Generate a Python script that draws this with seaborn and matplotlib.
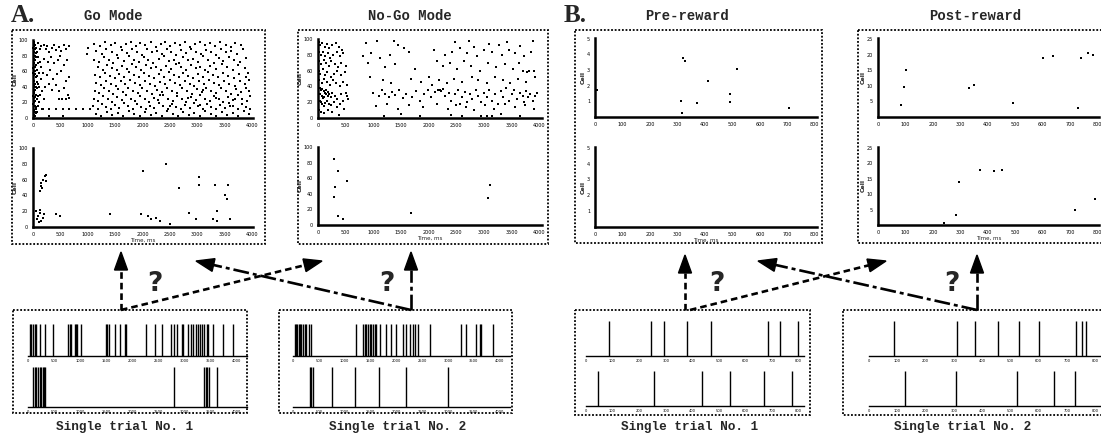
import matplotlib.pyplot as plt
import numpy as np
import pandas as pd
import seaborn as sns
from matplotlib.patches import Polygon, Rectangle

W, H = 1101, 437

# values: (time in ms, cell number)
go_top = [
    (10, 95), (25, 92), (40, 88), (15, 85), (55, 90), (30, 80), (70, 84), (12, 76), (45, 74), (20, 70),
    (60, 68), (8, 64), (35, 60), (80, 62), (18, 55), (50, 52), (25, 48), (65, 46), (10, 42), (40, 40),
    (30, 36), (75, 38), (15, 32), (55, 30), (20, 26), (45, 22), (8, 18), (35, 16), (60, 14), (15, 10),
    (28, 8), (50, 6), (12, 4), (40, 2), (90, 96), (100, 78), (110, 58), (95, 44), (120, 30), (105, 20),
    (130, 88), (140, 66), (150, 50), (160, 34), (22, 97), (38, 94), (5, 90), (48, 83), (62, 78), (28, 66),
    (6, 58), (42, 56), (72, 54), (14, 47), (32, 44), (58, 40), (24, 34), (6, 28), (38, 27), (68, 24),
    (16, 20), (48, 12), (70, 8), (85, 16), (92, 28), (125, 72), (145, 92), (165, 12), (88, 70), (110, 40),
    (200, 94), (230, 88), (260, 92), (300, 85), (340, 90), (380, 93), (420, 87), (470, 91), (520, 86),
    (560, 94), (610, 89), (650, 92), (210, 76), (270, 72), (330, 78), (390, 70), (450, 74), (500, 80),
    (560, 68), (620, 75), (190, 58), (250, 55), (310, 62), (370, 50), (440, 56), (520, 60), (600, 48),
    (660, 52), (220, 40), (290, 44), (350, 36), (420, 42), (480, 35), (560, 38), (640, 30), (200, 25),
    (470, 25), (530, 24), (600, 25), (650, 26), (190, 12), (300, 12),
    (420, 11), (540, 12), (660, 12), (790, 12),
    (910, 12), (1040, 12), (300, 3), (550, 2), (1010, 90), (980, 82),
    (1120, 95), (1230, 92), (1310, 97), (1420, 93), (1500, 96), (1610, 91), (1700, 95), (1790, 98),
    (1880, 92), (1960, 96), (2050, 93), (2150, 97), (2240, 91), (2330, 95), (2420, 98), (2510, 92),
    (2600, 96), (2690, 93), (2780, 97), (2870, 91), (2960, 95), (3050, 98), (3140, 93), (3230, 96),
    (3330, 92), (3420, 97), (3520, 94), (3610, 91), (3700, 96), (3800, 93),
    (1150, 86), (1260, 82), (1340, 88), (1450, 84), (1540, 81), (1630, 87), (1720, 83), (1810, 89),
    (1900, 85), (1990, 81), (2080, 88), (2170, 84), (2260, 86), (2350, 82), (2440, 89), (2530, 85),
    (2620, 81), (2710, 87), (2800, 83), (2890, 88), (2980, 84), (3070, 82), (3160, 87), (3250, 85),
    (3340, 81), (3430, 88), (3530, 84), (3620, 86), (3720, 82), (3840, 88),
    (1110, 75), (1200, 72), (1290, 78), (1380, 74), (1470, 71), (1560, 77), (1660, 73), (1750, 79),
    (1840, 75), (1930, 72), (2020, 78), (2110, 74), (2200, 71), (2300, 76), (2390, 79), (2480, 73),
    (2570, 75), (2660, 71), (2750, 78), (2840, 74), (2930, 76), (3020, 72), (3110, 79), (3200, 74),
    (3300, 71), (3390, 77), (3480, 73), (3580, 78), (3680, 75), (3780, 72), (3900, 77),
    (1180, 66), (1270, 62), (1360, 68), (1440, 64), (1530, 61), (1620, 67), (1710, 63), (1800, 69),
    (1890, 65), (1980, 62), (2070, 68), (2160, 64), (2250, 66), (2340, 61), (2430, 67), (2520, 63),
    (2610, 69), (2700, 65), (2790, 62), (2880, 68), (2970, 64), (3060, 66), (3150, 61), (3240, 67),
    (3350, 63), (3450, 69), (3550, 65), (3650, 62), (3750, 68), (3870, 64), (3920, 58),
    (1130, 55), (1220, 52), (1320, 58), (1410, 54), (1490, 51), (1580, 57), (1670, 53), (1760, 59),
    (1850, 55), (1940, 52), (2030, 58), (2120, 54), (2210, 51), (2300, 56), (2390, 53), (2480, 59),
    (2570, 55), (2660, 52), (2750, 58), (2840, 54), (2930, 51), (3020, 57), (3110, 53), (3200, 59),
    (3290, 55), (3380, 52), (3470, 58), (3570, 54), (3670, 51), (3770, 57), (3890, 53),
    (1160, 45), (1250, 42), (1340, 48), (1430, 44), (1510, 41), (1600, 47), (1690, 43), (1780, 49),
    (1870, 45), (1960, 42), (2050, 48), (2140, 44), (2230, 41), (2320, 46), (2410, 43), (2500, 49),
    (2590, 45), (2680, 42), (2770, 48), (2860, 44), (2950, 41), (3040, 47), (3130, 43), (3220, 49),
    (3310, 45), (3400, 42), (3490, 48), (3590, 44), (3690, 41), (3790, 47), (3880, 43), (3940, 49),
    (1140, 35), (1210, 32), (1300, 38), (1390, 34), (1460, 31), (1550, 37), (1640, 33), (1730, 39),
    (1820, 35), (1910, 32), (2000, 38), (2090, 34), (2180, 31), (2270, 36), (2360, 33), (2450, 39),
    (2540, 35), (2630, 32), (2720, 38), (2810, 34), (2900, 31), (2990, 37), (3080, 33), (3170, 39),
    (3260, 35), (3350, 32), (3440, 38), (3530, 34), (3620, 31), (3710, 37), (3800, 33), (3890, 39),
    (3950, 35), (2320, 30), (3100, 36),
    (1120, 25), (1190, 22), (1280, 28), (1370, 24), (1450, 21), (1540, 27), (1620, 23), (1700, 29),
    (1790, 25), (1870, 22), (1950, 28), (2040, 24), (2120, 21), (2210, 26), (2290, 23), (2380, 29),
    (2460, 25), (2550, 22), (2630, 28), (2720, 24), (2800, 21), (2890, 27), (2970, 23), (3060, 29),
    (3140, 25), (3230, 22), (3310, 28), (3400, 24), (3480, 21), (3570, 27), (3650, 23), (3740, 29),
    (3820, 25), (3910, 22), (3960, 28), (2840, 26), (3350, 26), (3700, 24),
    (1100, 15), (1180, 12), (1260, 18), (1340, 14), (1420, 11), (1500, 17), (1580, 13), (1660, 19),
    (1740, 15), (1820, 12), (1900, 18), (1980, 14), (2060, 11), (2140, 16), (2220, 13), (2300, 19),
    (2380, 15), (2460, 12), (2540, 18), (2620, 14), (2700, 11), (2780, 17), (2860, 13), (2940, 19),
    (3020, 15), (3100, 12), (3180, 18), (3260, 14), (3340, 11), (3420, 17), (3500, 13), (3580, 19),
    (3660, 15), (3740, 12), (3820, 18), (3900, 14), (3960, 11), (2500, 16), (3050, 17), (3600, 16),
    (1150, 5), (1250, 2), (1350, 8), (1450, 4), (1550, 7), (1650, 3), (1750, 9), (1850, 5),
    (1950, 2), (2050, 8), (2150, 4), (2250, 6), (2350, 3), (2450, 9), (2550, 5), (2650, 2),
    (2750, 8), (2850, 4), (2950, 7), (3050, 3), (3150, 9), (3250, 5), (3350, 2), (3450, 8),
    (3550, 4), (3650, 6), (3750, 3), (3850, 9), (3940, 5),
]
go_bottom = [
    (213, 64), (245, 66), (152, 56), (170, 49), (122, 46), (190, 60), (230, 58), (140, 52),
    (60, 20), (90, 14), (120, 18), (150, 8), (180, 12), (110, 6), (75, 10), (200, 16), (135, 22),
    (500, 14), (425, 16), (1400, 16), (2012, 71), (2427, 80), (2670, 50), (3036, 63), (3036, 53),
    (2853, 18), (3323, 53), (3567, 53), (3506, 40), (3550, 35), (3354, 20), (2165, 10), (2256, 12),
    (2317, 8), (2104, 14), (1982, 16), (2500, 4), (2975, 10), (3280, 10), (3370, 8), (3600, 10),
]
nogo_top = [
    (10, 96), (40, 92), (80, 95), (120, 90), (160, 94), (200, 88), (260, 92), (320, 95), (380, 90),
    (430, 86), (15, 84), (50, 80), (90, 83), (130, 78), (175, 82), (220, 76), (280, 80), (340, 84),
    (400, 78), (460, 82), (20, 72), (60, 68), (100, 74), (150, 70), (190, 66), (240, 72), (300, 68),
    (360, 64), (420, 70), (500, 66), (12, 60), (45, 56), (85, 62), (125, 54), (170, 58), (230, 52),
    (290, 56), (350, 60), (410, 54), (480, 58), (25, 48), (70, 44), (110, 50), (160, 46), (210, 42),
    (270, 48), (330, 44), (390, 40), (450, 46), (520, 42), (30, 38), (55, 36), (80, 37), (105, 34),
    (130, 32), (150, 35), (180, 33), (40, 30), (65, 28), (90, 25), (115, 27), (140, 30), (175, 28),
    (200, 30), (230, 26), (260, 32), (300, 28), (350, 24), (420, 30), (500, 32), (35, 22), (50, 20),
    (75, 18), (100, 15), (125, 19), (160, 22), (195, 18), (240, 16), (290, 20), (340, 14), (400, 18),
    (460, 22), (530, 28), (20, 10), (60, 8), (110, 6), (180, 10), (260, 8), (380, 4), (470, 12),
    (545, 24),
    (870, 95), (1060, 97), (1380, 98), (1450, 93), (2480, 96), (2730, 97), (2820, 90), (3100, 94),
    (3280, 93), (3420, 96), (3880, 98), (3650, 91), (820, 78), (960, 82), (1130, 76), (1300, 80),
    (1550, 88), (1640, 84), (2100, 86), (2290, 80), (2420, 84), (2560, 88), (2690, 82), (2880, 78),
    (3000, 86), (3150, 84), (3320, 80), (3460, 86), (3560, 82), (3720, 78), (3850, 84), (900, 70),
    (1220, 64), (1400, 68), (1750, 62), (2150, 72), (2260, 66), (2380, 70), (2520, 62), (2640, 72),
    (2760, 66), (2920, 60), (3080, 70), (3220, 64), (3380, 68), (3520, 62), (3640, 70), (3780, 58),
    (3900, 60), (3700, 60), (3820, 59),
    (940, 52), (1180, 48), (1320, 44), (1680, 50), (1860, 46), (2000, 52), (2180, 48), (2340, 44),
    (2450, 50), (2600, 46), (2780, 52), (2900, 48), (3060, 44), (3200, 52), (3340, 48), (3480, 44),
    (3620, 50), (3760, 46), (3920, 52), (2060, 42),
    (1000, 32), (1100, 28), (1150, 35), (1210, 30), (1280, 26), (1340, 33), (1400, 29), (1470, 36),
    (1530, 25), (1600, 31), (1700, 27), (1780, 34), (1850, 22), (1920, 30), (1990, 36), (2050, 26),
    (2120, 33), (2170, 36), (2200, 35), (2230, 34), (2260, 37), (2300, 28), (2360, 32), (2410, 22),
    (2470, 30), (2530, 36), (2560, 18), (2600, 26), (2650, 33), (2700, 20), (2740, 30), (2790, 24),
    (2850, 35), (2900, 28), (2950, 20), (3000, 32), (3050, 26), (3100, 36), (3150, 22), (3200, 30),
    (3260, 18), (3300, 34), (3350, 26), (3400, 38), (3450, 22), (3500, 30), (3550, 36), (3600, 24),
    (3650, 32), (3700, 28), (3720, 20), (3760, 34), (3800, 26), (3840, 30), (3880, 22), (3920, 28),
    (3960, 32), (1050, 15), (1250, 18), (1450, 12), (1650, 16), (1900, 14), (2150, 18), (2350, 12),
    (2500, 16), (2680, 14), (2820, 10), (3020, 16), (3180, 12), (3380, 18), (3560, 14), (3740, 16),
    (3900, 12), (1200, 3), (1500, 5), (1850, 2), (2400, 4), (2600, 3), (2950, 2), (3050, 3),
    (3150, 2), (3300, 5), (3650, 3),
]
nogo_bottom = [
    (287, 85), (366, 69), (518, 56), (311, 49), (293, 36), (366, 12), (445, 8), (1677, 16),
    (3110, 51), (3067, 34),
]
pre_top = [
    (320, 3.8), (327, 3.6), (516, 3.1), (412, 2.3), (490, 1.5), (313, 1.0), (490, 0.95),
    (372, 0.9), (705, 0.6), (315, 0.25), (6, 1.7),
]
pre_bottom = []
post_top = [
    (103, 15.1), (93, 9.5), (85, 3.9), (333, 9.3), (349, 10.3), (491, 4.5), (602, 18.8),
    (639, 19.6), (739, 18.8), (764, 20.6), (784, 19.8), (727, 2.9),
]
post_bottom = [
    (294, 13.8), (373, 17.8), (422, 17.6), (451, 17.9), (285, 3.2), (719, 4.8), (789, 8.5),
    (242, 0.5),
]

ms_ticks = [0, 500, 1000, 1500, 2000, 2500, 3000, 3500, 4000]
go_cell_ticks = [0, 20, 40, 60, 80, 100]
reward_ticks = [0, 100, 200, 300, 400, 500, 600, 700, 800]
pre_cell_ticks = [1, 2, 3, 4, 5]
post_cell_ticks = [5, 10, 15, 20, 25]

# spike times (ms) of the two example trials
go_trial1_a = [45, 64, 96, 128, 147, 224, 320, 480, 768, 800, 832, 896, 915, 941, 1024, 1491,
               1517, 1555, 1664, 1760, 1856, 1888, 2259, 2432, 2579, 2733, 2797, 2848, 2944,
               2976, 3072, 3117, 3168, 3219, 3264, 3296, 3328, 3373, 3424, 3456, 3552, 3744, 3936]
go_trial1_b = [96, 128, 160, 192, 224, 256, 288, 307, 320, 2797, 3373, 3405, 3437, 3475, 3616]
go_trial2_a = [32, 65, 84, 110, 129, 161, 194, 226, 258, 310, 355, 1226, 1355, 1387, 1419, 1452,
               1484, 1516, 1548, 1581, 1613, 1677, 1806, 1903, 2000, 2129, 2180, 2258, 2322,
               2355, 2419, 2645, 3258, 3355, 3548, 3613, 3645, 3871]
go_trial2_b = [323, 355, 387, 761, 1194, 1658, 2180, 3000]
rw_trial1_a = [87, 243, 293, 379, 470, 683, 729, 798]
rw_trial1_b = [46, 256, 436, 543, 671, 775]
rw_trial2_a = [87, 311, 376, 455, 532, 600, 734, 753, 769]
rw_trial2_b = [126, 308, 522, 653, 728]

sns.set_style("white")
plt.rcParams["font.family"] = ["DejaVu Sans"]

fig = plt.figure(figsize=(W / 100, H / 100), dpi=100)
ov = fig.add_axes([0, 0, 1, 1])
ov.set_xlim(0, W)
ov.set_ylim(H, 0)
ov.axis("off")


def axes_px(l, t, r, b):
    ax = fig.add_axes([l / W, 1 - b / H, (r - l) / W, (b - t) / H])
    ax.set_facecolor("none")
    return ax


def raster(box, pts, xmax, xticks, ymax, yticks, xlabel=False, size=4):
    ax = axes_px(*box)
    if pts:
        df = pd.DataFrame(pts, columns=["t", "cell"])
        sns.scatterplot(data=df, x="t", y="cell", ax=ax, color="k", marker="s",
                        s=size, linewidth=0, legend=False, clip_on=False)
    ax.set_xlim(0, xmax)
    ax.set_ylim(0, ymax)
    ax.set_xticks(xticks)
    ax.set_yticks(yticks)
    ax.tick_params(labelsize=3.5, length=2, width=0.8, pad=1.5, colors="k")
    for s in ["top", "right"]:
        ax.spines[s].set_visible(False)
    for s in ["left", "bottom"]:
        ax.spines[s].set_linewidth(1.8)
        ax.spines[s].set_color("k")
    ax.set_ylabel("Cell", fontsize=4.5, fontweight="bold", labelpad=1)
    ax.set_xlabel("Time, ms" if xlabel else "", fontsize=4, labelpad=1)
    return ax


def spikes(box, times, xmax, xticks):
    ax = axes_px(*box)
    sns.rugplot(x=times, ax=ax, height=0.93, color="k", lw=1.2, expand_margins=False)
    ax.set_xlim(0, xmax)
    ax.set_ylim(0, 1)
    ax.set_yticks([])
    ax.set_xticks(xticks)
    ax.tick_params(labelsize=2.6, length=1.5, width=0.6, pad=1, colors="k")
    for s in ["top", "right", "left"]:
        ax.spines[s].set_visible(False)
    ax.spines["bottom"].set_linewidth(1.0)
    ax.spines["bottom"].set_color("k")


def box(l, t, r, b):
    ov.add_patch(Rectangle((l, t), r - l, b - t, fill=False, ec="k", lw=1.3, ls=(0, (1, 1))))


def arrow(x0, y0, x1, y1, ls):
    d = np.array([x1 - x0, y1 - y0], dtype=float)
    u = d / np.hypot(*d)
    n = np.array([-u[1], u[0]])
    base = np.array([x1, y1]) - u * 18
    ov.plot([x0, base[0]], [y0, base[1]], color="k", lw=1.9, ls=ls)
    ov.add_patch(Polygon([(x1, y1), base + n * 6.5, base - n * 6.5], closed=True, fc="k", ec="k"))


dash = (0, (2.5, 1.5))
dashdot = (0, (6, 1.5, 1.5, 1.5))

# dotted frames
box(12, 30, 265, 244)
box(298, 30, 548, 244)
box(575, 30, 822, 243)
box(858, 30, 1112, 243)
box(13, 310, 247, 413)
box(279, 310, 512, 413)
box(575, 310, 810, 415)
box(843, 310, 1112, 415)

# raster panels
raster((33, 40, 253, 118), go_top, 4020, ms_ticks, 100, go_cell_ticks, size=4)
raster((33, 148, 253, 227), go_bottom, 4020, ms_ticks, 100, go_cell_ticks, xlabel=True)
raster((318, 39, 542, 118), nogo_top, 4050, ms_ticks, 100, go_cell_ticks, size=4.5)
raster((318, 147, 542, 225), nogo_bottom, 4050, ms_ticks, 100, go_cell_ticks, xlabel=True)
raster((595, 38, 817, 117), pre_top, 808, reward_ticks, 5.05, pre_cell_ticks)
raster((595, 147, 817, 227), pre_bottom, 808, reward_ticks, 5.05, pre_cell_ticks, xlabel=True)
raster((878, 38, 1099, 117), post_top, 805, reward_ticks, 25.3, post_cell_ticks)
raster((878, 147, 1099, 225), post_bottom, 805, reward_ticks, 25.3, post_cell_ticks, xlabel=True)

# single trials
spikes((28, 322, 247, 356), go_trial1_a, 4200, ms_ticks)
spikes((28, 364, 247, 407), go_trial1_b, 4200, ms_ticks)
spikes((293, 322, 510, 356), go_trial2_a, 4200, ms_ticks)
spikes((293, 364, 510, 407), go_trial2_b, 4200, ms_ticks)
spikes((586, 318, 804, 356), rw_trial1_a, 820, reward_ticks)
spikes((586, 368, 804, 406), rw_trial1_b, 820, reward_ticks)
spikes((869, 318, 1101, 356), rw_trial2_a, 821, reward_ticks)
spikes((869, 368, 1101, 406), rw_trial2_b, 821, reward_ticks)

# arrows and question marks
arrow(121, 310, 121, 252, dash)
arrow(121, 310, 322, 261, dash)
arrow(411, 310, 196, 261, dashdot)
arrow(411, 310, 411, 252, dashdot)
arrow(685, 310, 685, 255, dash)
arrow(690, 310, 886, 261, dash)
arrow(977, 310, 758, 261, dashdot)
arrow(977, 310, 977, 255, dashdot)
for qx in [155, 387, 717, 952]:
    ov.text(qx, 284, "?", fontsize=19, fontweight="heavy", ha="center", va="center",
            family="DejaVu Sans")

# titles and captions
serif = "Liberation Serif"
mono = "Liberation Mono"
ov.text(11, 15, "A.", fontsize=18, fontweight="bold", family=serif, ha="left", va="center")
ov.text(564, 15, "B.", fontsize=18, fontweight="bold", family=serif, ha="left", va="center")
for x, s in [(113, "Go Mode"), (410, "No-Go Mode"), (687, "Pre-reward"), (975, "Post-reward")]:
    ov.text(x, 16, s, fontsize=10, fontweight="bold", family=mono, ha="center", va="center")
for x, s in [(125, "Single trial No. 1"), (398, "Single trial No. 2"),
             (690, "Single trial No. 1"), (963, "Single trial No. 2")]:
    ov.text(x, 427, s, fontsize=9.2, fontweight="bold", family=mono, ha="center", va="center")

fig.savefig("out.png", dpi=100)
